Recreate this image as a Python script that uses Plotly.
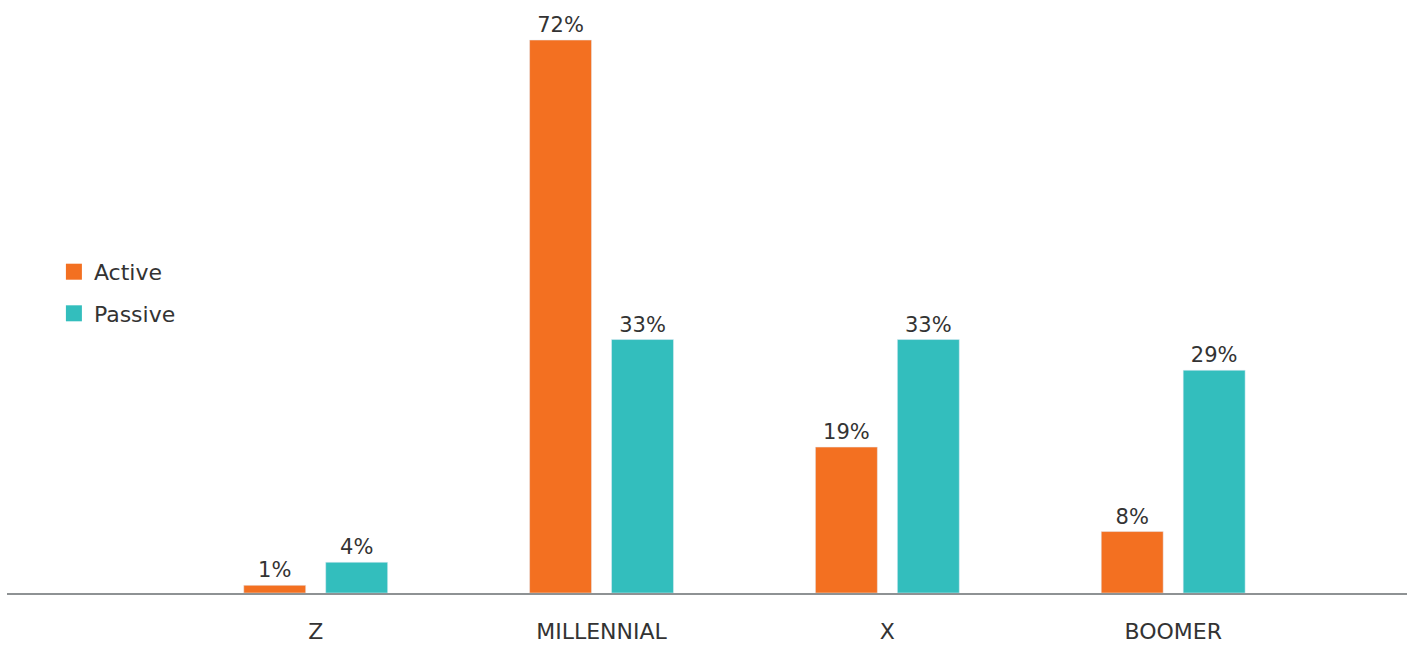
import plotly.graph_objects as go

categories = ["Z", "MILLENNIAL", "X", "BOOMER"]
active = [1, 72, 19, 8]
passive = [4, 33, 33, 29]
series_names = ["Active", "Passive"]
colors = ["#F37021", "#33BEBD"]

FONT = "DejaVu Sans"

fig = go.Figure()
for name, vals, col in zip(series_names, [active, passive], colors):
    fig.add_trace(go.Bar(
        x=categories, y=vals, name=name, marker_color=col,
        text=[f"{v}%" for v in vals], textposition="outside",
        textfont=dict(size=21, color="#333333", family=FONT),
        cliponaxis=False, showlegend=False,
    ))
for name, col in zip(series_names, colors):
    fig.add_trace(go.Scatter(
        x=[None], y=[None], mode="markers", name=name, legendgroup=name,
        marker=dict(symbol="square", size=16, color=col),
    ))

fig.update_layout(
    width=1408, height=647,
    margin=dict(l=7, r=1, t=17, b=54, autoexpand=False),
    paper_bgcolor="white", plot_bgcolor="white",
    font=dict(family=FONT, size=22, color="#333333"),
    barmode="group", bargap=0.4266, bargroupgap=0.244,
    showlegend=True,
    legend=dict(x=0.0335, y=0.521, xanchor="left", yanchor="middle",
                font=dict(size=22, color="#333333", family=FONT), tracegroupgap=10,
                bgcolor="rgba(0,0,0,0)"),
    xaxis=dict(type="category", range=[-1.08, 3.818], showline=True,
               linecolor="#8E9294", linewidth=2, showgrid=False, zeroline=False,
               automargin=False,
               ticks="", ticklabelstandoff=18, tickfont=dict(size=22, color="#333333", family=FONT)),
    yaxis=dict(range=[0, 75], visible=False, showgrid=False, zeroline=False, automargin=False),
)
fig.write_html("out.html")
